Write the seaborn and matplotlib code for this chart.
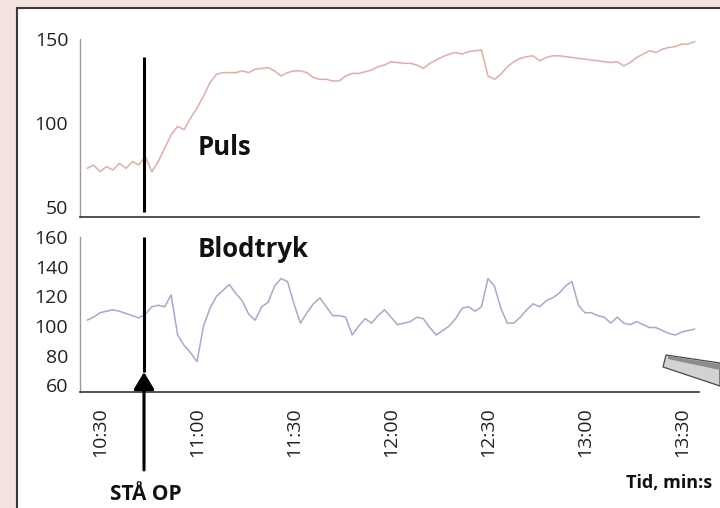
import numpy as np
import pandas as pd
import matplotlib
matplotlib.use("Agg")
import matplotlib.pyplot as plt
import seaborn as sns
from matplotlib.patches import Rectangle, Polygon

# minutes after 10:30
minutes = list(range(-4, 186, 2))

pulse = [73, 75, 71, 74, 72, 76, 73, 77, 75, 80,
         71, 77, 85, 93, 98, 96, 103, 109, 116, 124,
         129, 130, 130, 130, 131, 130, 132, 132.5, 133, 131,
         128, 130, 131, 131, 130, 127, 126, 126, 125, 125,
         128, 129.5, 129.5, 130.5, 131.5, 133.5, 134.5, 136.5, 136, 135.5,
         135.5, 134.5, 132.5, 135.5, 137.5, 139.5, 141, 142, 141, 142.5,
         143, 143.5, 128, 126, 129, 133.5, 136.5, 138.5, 139.5, 140,
         137, 139, 140, 140, 139.5, 139, 138.5, 138, 137.5, 137,
         136.5, 136, 136.5, 134, 136, 139, 141, 143, 142, 144,
         145, 145.5, 147, 147, 148.5]

blood_pressure = [104, 106, 109, 110, 111, 110, 108.5, 107, 105.5, 108,
                  113, 114, 113, 121, 94, 87, 82, 76, 100, 112,
                  120, 124, 128, 122, 117, 108, 104, 113, 116, 127,
                  132, 130, 115, 102, 109, 115, 119, 113, 107, 107,
                  106, 94, 100, 105, 102, 107, 111, 106, 101, 102,
                  103, 106, 105, 99, 94, 97, 100, 105, 112, 113,
                  110, 113, 132, 127, 112, 102, 102, 106, 111, 115,
                  113, 117, 119, 122, 127, 130, 114, 109, 109, 107,
                  106, 102, 106, 102, 101, 103, 101, 99, 99, 97,
                  95, 94, 96, 97, 98]

x_tick_minutes = [0, 30, 60, 90, 120, 150, 180]
x_tick_labels = ["10:30", "11:00", "11:30", "12:00", "12:30", "13:00", "13:30"]
pulse_ticks = [50, 100, 150]
bp_ticks = [60, 80, 100, 120, 140, 160]
stand_up_minute = 13.6

df = pd.DataFrame({"min": minutes, "pulse": pulse, "bp": blood_pressure})

sns.set_style("white")
plt.rcParams["font.family"] = ["Open Sans", "DejaVu Sans"]

W, H = 720, 508
fig = plt.figure(figsize=(W / 100, H / 100), dpi=100)
fig.patch.set_facecolor("#f3e4e0")

def fx(px):
    return px / W

def fy(py):
    return 1 - py / H

panel = Rectangle((fx(17), -0.05), 1.2, fy(8) + 0.05, transform=fig.transFigure,
                  facecolor="white", edgecolor="#3a3a3a", linewidth=1.5, zorder=0)
fig.add_artist(panel)

ax1 = fig.add_axes([fx(80), fy(217), fx(699) - fx(80), fy(39) - fy(217)])
ax2 = fig.add_axes([fx(80), fy(392), fx(699) - fx(80), fy(237) - fy(392)])

xlim = (-6.2, 185.3)
for ax in (ax1, ax2):
    ax.set_facecolor("none")
    ax.set_xlim(*xlim)
    for s in ("top", "right"):
        ax.spines[s].set_visible(False)
    ax.spines["left"].set_color("#9a9a9a")
    ax.spines["bottom"].set_color("#333333")
    ax.spines["left"].set_linewidth(1.0)
    ax.spines["bottom"].set_linewidth(1.2)

sns.lineplot(data=df, x="min", y="pulse", ax=ax1, color="#e6aca4", linewidth=1.1)
sns.lineplot(data=df, x="min", y="bp", ax=ax2, color="#a6a8d2", linewidth=1.1)

ax1.set_ylim(44, 150)
ax1.set_yticks(pulse_ticks)
ax1.set_xticks([])
ax2.set_ylim(55.6, 160)
ax2.set_yticks(bp_ticks)
ax2.set_xticks(x_tick_minutes)
ax2.set_xticklabels(x_tick_labels, rotation=90)
for ax in (ax1, ax2):
    ax.set_xlabel("")
    ax.set_ylabel("")
    ax.tick_params(axis="y", length=0, pad=8.5, labelsize=14, labelcolor="#222222")
ax2.tick_params(axis="x", length=0, pad=11, labelsize=14, labelcolor="#222222")

# stand-up marker
ax1.vlines(stand_up_minute, 47, 139.3, color="black", linewidth=2.2)
ax2.vlines(stand_up_minute, 69, 160, color="black", linewidth=2.2)
ax2.annotate("", xy=(stand_up_minute, 69), xycoords="data",
             xytext=(144, H - 470), textcoords="figure pixels",
             arrowprops=dict(arrowstyle="-|>,head_length=0.75,head_width=0.45",
                             mutation_scale=14, color="black", lw=2.2,
                             shrinkA=0, shrinkB=0),
             annotation_clip=False)

fig.text(fx(198), fy(155), "Puls", fontsize=18.5, fontweight="bold",
         ha="left", va="baseline", color="#111111")
fig.text(fx(198), fy(257), "Blodtryk", fontsize=18.5, fontweight="bold",
         ha="left", va="baseline", color="#111111")
fig.text(fx(146), fy(500), "ST\u00c5 OP", fontsize=15, fontweight="bold",
         ha="center", va="baseline", color="#111111")
fig.text(fx(712), fy(488), "Tid, min:s", fontsize=13, fontweight="bold",
         ha="right", va="baseline", color="#111111")

# decorative pointer at lower right
pts = [(666, 355), (720, 363), (720, 386), (663, 367)]
pen = Polygon([(fx(a), fy(b)) for a, b in pts], closed=True, transform=fig.transFigure,
              facecolor="#d2d2d2", edgecolor="#4a4a4a", linewidth=0.9)
fig.add_artist(pen)
pts2 = [(668, 356), (720, 364), (720, 370), (668, 359)]
pen2 = Polygon([(fx(a), fy(b)) for a, b in pts2], closed=True, transform=fig.transFigure,
               facecolor="#8c8c8c", edgecolor="none")
fig.add_artist(pen2)

fig.savefig("out.png", dpi=100, facecolor=fig.get_facecolor())
